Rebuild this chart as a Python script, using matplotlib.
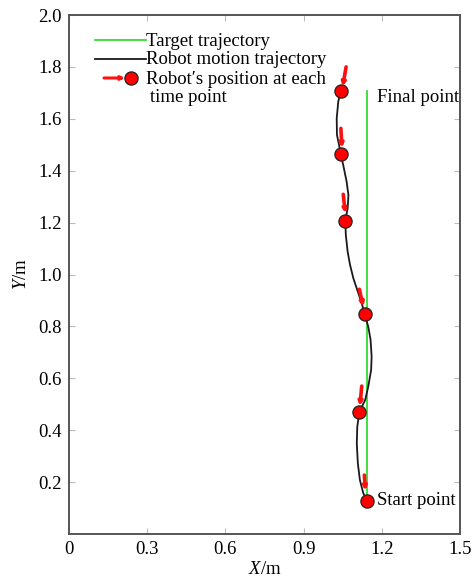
import matplotlib
matplotlib.use("Agg")
import matplotlib.pyplot as plt
from matplotlib.lines import Line2D

plt.rcParams["font.family"] = ["Liberation Serif", "DejaVu Serif"]
plt.rcParams["mathtext.fontset"] = "custom"
plt.rcParams["mathtext.rm"] = "Liberation Serif"
plt.rcParams["mathtext.it"] = "Liberation Serif:italic"

# Target (straight) trajectory
target_x = [1.143, 1.143]
target_y = [0.128, 1.709]

# Robot motion trajectory
robot_x = [1.042, 1.033, 1.027, 1.028, 1.036, 1.042, 1.052, 1.065, 1.072, 1.069,
           1.060, 1.062, 1.069, 1.078, 1.091, 1.108, 1.123, 1.134, 1.148, 1.157,
           1.161, 1.159, 1.148, 1.136, 1.114, 1.106, 1.104, 1.108, 1.116, 1.129,
           1.143]
robot_y = [1.709, 1.666, 1.602, 1.538, 1.499, 1.464, 1.422, 1.358, 1.306, 1.255,
           1.208, 1.152, 1.088, 1.038, 0.985, 0.934, 0.889, 0.848, 0.799, 0.748,
           0.683, 0.632, 0.568, 0.516, 0.471, 0.414, 0.350, 0.273, 0.208, 0.157,
           0.128]

# Robot position at each time point
pos_x = [1.042, 1.042, 1.060, 1.134, 1.114, 1.143]
pos_y = [1.709, 1.464, 1.208, 0.848, 0.471, 0.128]

# Heading arrows: tail positions and end positions
arrow_x0 = [1.063, 1.043, 1.052, 1.114, 1.123, 1.133]
arrow_y0 = [1.800, 1.563, 1.309, 0.943, 0.570, 0.227]
arrow_x1 = [1.050, 1.047, 1.060, 1.129, 1.116, 1.137]
arrow_y1 = [1.724, 1.488, 1.236, 0.876, 0.493, 0.167]

x_ticks = [0, 0.3, 0.6, 0.9, 1.2, 1.5]
x_tick_labels = ["0", "0.3", "0.6", "0.9", "1.2", "1.5"]
y_ticks = [0.2, 0.4, 0.6, 0.8, 1.0, 1.2, 1.4, 1.6, 1.8, 2.0]
y_tick_labels = ["0.2", "0.4", "0.6", "0.8", "1.0", "1.2", "1.4", "1.6", "1.8", "2.0"]

FS = 13.5
GREEN = "#33dd33"
RED = "#ff1010"

fig = plt.figure(figsize=(4.74, 5.81), dpi=100)
ax = fig.add_axes([69 / 474, 47 / 581, 391 / 474, 519 / 581])

ax.plot(target_x, target_y, color=GREEN, lw=1.3, zorder=2)
ax.plot(robot_x, robot_y, color="#1a1a1a", lw=1.3, zorder=3,
        solid_joinstyle="round")
ax.plot(pos_x, pos_y, "o", ms=9.5, mfc="#ff0000", mec="#222222", mew=0.9, zorder=4)

for x0, y0, x1, y1 in zip(arrow_x0, arrow_y0, arrow_x1, arrow_y1):
    ax.annotate("", xy=(x1, y1), xytext=(x0, y0),
                arrowprops=dict(arrowstyle="-|>", color=RED, lw=2.6,
                                mutation_scale=5, shrinkA=0, shrinkB=0),
                zorder=5)

ax.text(1.182, 1.684, "Final point", fontsize=FS, va="center", ha="left")
ax.text(1.182, 0.128, "Start point", fontsize=FS, va="center", ha="left")

# Legend drawn in axes coordinates
def ax_xy(px, py):
    return ((px - 69) / 391, (534 - py) / 519)

lx0, ly = ax_xy(95, 40)
lx1, _ = ax_xy(146, 40)
ax.add_line(Line2D([lx0, lx1], [ly, ly], color=GREEN, lw=1.3, transform=ax.transAxes))
ax.text(lx1, ax_xy(0, 41)[1], "Target trajectory", transform=ax.transAxes, fontsize=FS,
        va="center", ha="left")

_, ly2 = ax_xy(95, 59)
ax.add_line(Line2D([lx0, lx1], [ly2, ly2], color="#1a1a1a", lw=1.3, transform=ax.transAxes))
ax.text(lx1, ax_xy(0, 60)[1], "Robot motion trajectory", transform=ax.transAxes, fontsize=FS,
        va="center", ha="left")

ax3, ly3 = ax_xy(104, 78)
ax3e, _ = ax_xy(125, 78)
cx, _ = ax_xy(131, 78)
ax.annotate("", xy=(ax3e, ly3), xytext=(ax3, ly3), xycoords="axes fraction",
            textcoords="axes fraction",
            arrowprops=dict(arrowstyle="-|>", color=RED, lw=2.2,
                            mutation_scale=5, shrinkA=0, shrinkB=0))
ax.plot([cx], [ly3], "o", ms=9.5, mfc="#ff0000", mec="#222222", mew=0.9,
        transform=ax.transAxes, clip_on=False)
ax.text(lx1, ax_xy(0, 79)[1], "Robot\u2032s position at each", transform=ax.transAxes,
        fontsize=FS, va="center", ha="left")
tx4, ly4 = ax_xy(150, 98)
ax.text(tx4, ly4, "time point", transform=ax.transAxes, fontsize=FS,
        va="center", ha="left")

ax.set_xlim(0, 1.5)
ax.set_ylim(0, 2.0)
ax.set_xticks(x_ticks)
ax.set_xticklabels(x_tick_labels)
ax.set_yticks(y_ticks)
ax.set_yticklabels(y_tick_labels)
ax.tick_params(direction="in", length=4, width=0.8, color="#bbbbbb",
               labelsize=FS, top=True, right=True, pad=5)
for s in ax.spines.values():
    s.set_color("#555555")
    s.set_linewidth(1.4)

ax.set_xlabel("$X$/m", fontsize=FS, labelpad=2)
ax.set_ylabel("$Y$/m", fontsize=FS, labelpad=6)

fig.savefig("out.png", dpi=100)
